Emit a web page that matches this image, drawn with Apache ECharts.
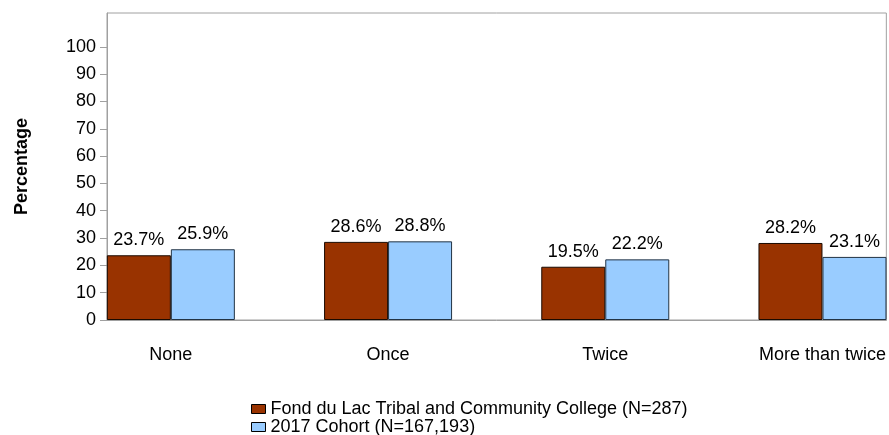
<!DOCTYPE html>
<html>
<head>
<meta charset="utf-8">
<script src="https://cdn.jsdelivr.net/npm/echarts@6/dist/echarts.min.js"></script>
<style>
  html, body { margin: 0; padding: 0; background: #fff; }
  #chart { width: 889px; height: 435px; }
</style>
</head>
<body>
<div id="chart"></div>
<script>
// categories and values
const categories = ["None", "Once", "Twice", "More than twice"];
const collegeName = "Fond du Lac Tribal and Community College (N=287)";
const cohortName = "2017 Cohort (N=167,193)";
const collegeValues = [23.7, 28.6, 19.5, 28.2];
const cohortValues = [25.9, 28.8, 22.2, 23.1];
const yTicks = [0, 10, 20, 30, 40, 50, 60, 70, 80, 90, 100];

const font = "'Liberation Sans', Arial, sans-serif";
const halfGroup = 0.294; // groups sit flush with the plot frame

const chart = echarts.init(document.getElementById("chart"), null, { renderer: "canvas" });

const labelStyle = {
  show: true,
  position: "top",
  distance: 6,
  color: "#000",
  fontSize: 18,
  fontFamily: font,
  formatter: (p) => p.value[1].toFixed(1) + "%",
};

chart.setOption({
  animation: false,
  backgroundColor: "#fff",
  textStyle: { fontFamily: font },
  grid: {
    left: 107,
    right: 1,
    top: 13,
    bottom: 115,
    show: true,
    borderColor: "#a0a0a0",
    borderWidth: 1,
    backgroundColor: "transparent",
  },
  legend: {
    orient: "vertical",
    left: 246,
    top: 395,
    height: 80,
    icon: "rect",
    itemWidth: 14,
    itemHeight: 9,
    itemGap: 0,
    textStyle: { fontSize: 18, color: "#000", fontFamily: font, lineHeight: 18 },
    data: [
      { name: collegeName, itemStyle: { borderColor: "#000", borderWidth: 1 } },
      { name: cohortName, itemStyle: { borderColor: "#000", borderWidth: 1 } },
    ],
  },
  xAxis: {
    type: "value",
    min: -halfGroup,
    max: categories.length - 1 + halfGroup,
    splitLine: { show: false },
    axisLine: { show: true, lineStyle: { color: "#a0a0a0", width: 1 } },
    axisTick: { show: false },
    axisLabel: {
      customValues: categories.map((_, i) => i),
      formatter: (v) => categories[Math.round(v)] || "",
      color: "#000",
      fontSize: 18,
      fontFamily: font,
      margin: 26,
    },
  },
  yAxis: {
    type: "value",
    min: 0,
    max: 112.4,
    name: "Percentage",
    nameLocation: "middle",
    nameRotate: 90,
    nameGap: 76,
    nameTextStyle: { fontSize: 18, fontWeight: "bold", color: "#000", fontFamily: font },
    splitLine: { show: false },
    axisLine: { show: true, onZero: false, lineStyle: { color: "#a0a0a0", width: 1 } },
    axisTick: {
      show: true,
      length: 7,
      customValues: yTicks,
      lineStyle: { color: "#a0a0a0" },
    },
    axisLabel: {
      customValues: yTicks,
      color: "#000",
      fontSize: 18,
      fontFamily: font,
      margin: 11,
    },
  },
  series: [
    {
      name: collegeName,
      type: "bar",
      barWidth: 64,
      barGap: "0%",
      itemStyle: { color: "#993300", borderColor: "#1a0a00", borderWidth: 1 },
      label: labelStyle,
      data: collegeValues.map((v, i) => [i, v]),
    },
    {
      name: cohortName,
      type: "bar",
      barWidth: 64,
      barGap: "0%",
      itemStyle: { color: "#99ccff", borderColor: "#223344", borderWidth: 1 },
      label: labelStyle,
      data: cohortValues.map((v, i) => [i, v]),
    },
  ],
});
</script>
</body>
</html>
